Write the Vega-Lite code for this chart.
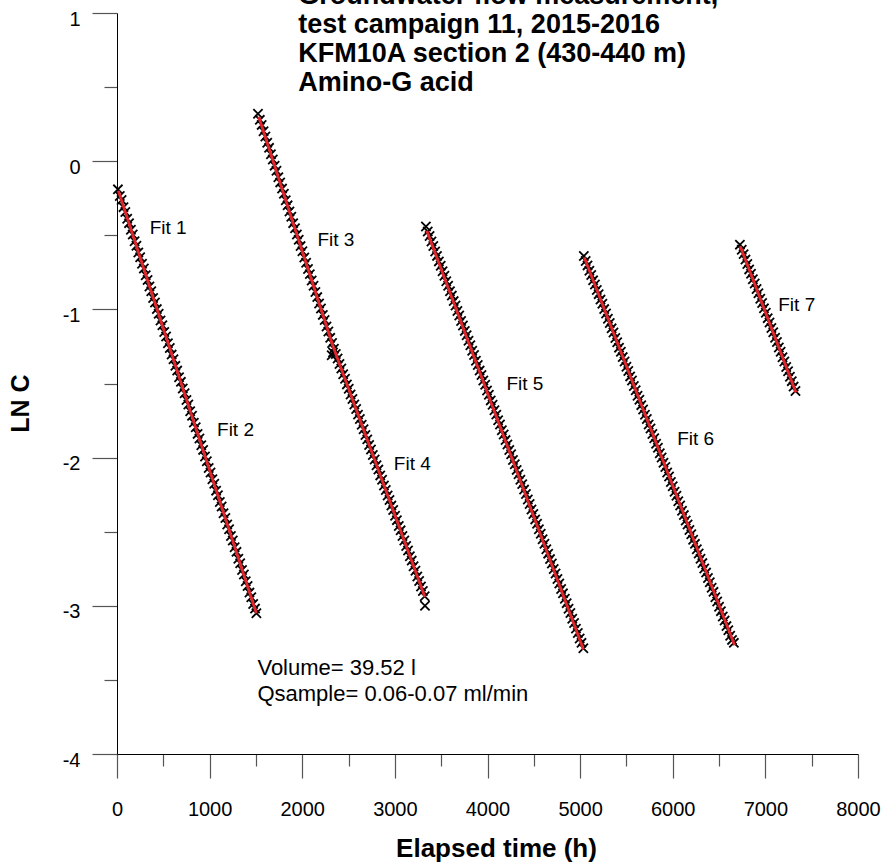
{
"$schema": "https://vega.github.io/schema/vega-lite/v6.json",
"width": 741, "height": 741,
"autosize": {"type": "none"},
"padding": {"left": 117, "top": 13, "right": 25, "bottom": 111},
"background": "white",
"config": {"view": {"stroke": null}, "font": "Liberation Sans"},
"datasets": {
"pts": [
{"s":1,"t":10,"v":-0.19},{"s":1,"t":30,"v":-0.235},{"s":1,"t":50,"v":-0.262},{"s":1,"t":70,"v":-0.31},{"s":1,"t":90,"v":-0.343},{"s":1,"t":110,"v":-0.388},{"s":1,"t":130,"v":-0.418},{"s":1,"t":150,"v":-0.462},{"s":1,"t":170,"v":-0.495},{"s":1,"t":190,"v":-0.54},{"s":1,"t":210,"v":-0.571},{"s":1,"t":230,"v":-0.616},{"s":1,"t":250,"v":-0.648},{"s":1,"t":270,"v":-0.692},{"s":1,"t":290,"v":-0.724},{"s":1,"t":310,"v":-0.77},{"s":1,"t":330,"v":-0.801},{"s":1,"t":350,"v":-0.846},{"s":1,"t":370,"v":-0.877},{"s":1,"t":390,"v":-0.923},{"s":1,"t":410,"v":-0.953},{"s":1,"t":430,"v":-0.998},{"s":1,"t":450,"v":-1.03},{"s":1,"t":470,"v":-1.075},{"s":1,"t":490,"v":-1.107},{"s":1,"t":510,"v":-1.152},{"s":1,"t":530,"v":-1.183},{"s":1,"t":550,"v":-1.228},{"s":1,"t":570,"v":-1.26},{"s":1,"t":590,"v":-1.305},{"s":1,"t":610,"v":-1.336},{"s":1,"t":630,"v":-1.381},{"s":1,"t":650,"v":-1.413},{"s":1,"t":670,"v":-1.458},{"s":1,"t":690,"v":-1.489},{"s":1,"t":710,"v":-1.534},{"s":1,"t":730,"v":-1.566},{"s":1,"t":750,"v":-1.611},{"s":1,"t":770,"v":-1.642},{"s":1,"t":790,"v":-1.687},{"s":1,"t":810,"v":-1.718},{"s":1,"t":830,"v":-1.764},{"s":1,"t":850,"v":-1.795},{"s":1,"t":870,"v":-1.84},{"s":1,"t":890,"v":-1.871},{"s":1,"t":910,"v":-1.917},{"s":1,"t":930,"v":-1.948},{"s":1,"t":950,"v":-1.993},{"s":1,"t":970,"v":-2.025},{"s":1,"t":990,"v":-2.07},{"s":1,"t":1010,"v":-2.101},{"s":1,"t":1030,"v":-2.146},{"s":1,"t":1050,"v":-2.177},{"s":1,"t":1070,"v":-2.223},{"s":1,"t":1090,"v":-2.254},{"s":1,"t":1110,"v":-2.299},{"s":1,"t":1130,"v":-2.33},{"s":1,"t":1150,"v":-2.376},{"s":1,"t":1170,"v":-2.407},{"s":1,"t":1190,"v":-2.452},{"s":1,"t":1210,"v":-2.483},{"s":1,"t":1230,"v":-2.529},{"s":1,"t":1250,"v":-2.56},{"s":1,"t":1270,"v":-2.605},{"s":1,"t":1290,"v":-2.636},{"s":1,"t":1310,"v":-2.682},{"s":1,"t":1330,"v":-2.713},{"s":1,"t":1350,"v":-2.758},{"s":1,"t":1370,"v":-2.789},{"s":1,"t":1390,"v":-2.835},{"s":1,"t":1410,"v":-2.866},{"s":1,"t":1430,"v":-2.911},{"s":1,"t":1450,"v":-2.942},{"s":1,"t":1470,"v":-2.988},{"s":1,"t":1490,"v":-3.019},{"s":1,"t":1505,"v":-3.05},
{"s":2,"t":1522,"v":0.32},{"s":2,"t":1542,"v":0.279},{"s":2,"t":1562,"v":0.245},{"s":2,"t":1582,"v":0.202},{"s":2,"t":1602,"v":0.167},{"s":2,"t":1622,"v":0.124},{"s":2,"t":1642,"v":0.09},{"s":2,"t":1662,"v":0.047},{"s":2,"t":1682,"v":0.012},{"s":2,"t":1702,"v":-0.03},{"s":2,"t":1722,"v":-0.065},{"s":2,"t":1742,"v":-0.108},{"s":2,"t":1762,"v":-0.143},{"s":2,"t":1782,"v":-0.185},{"s":2,"t":1802,"v":-0.22},{"s":2,"t":1822,"v":-0.263},{"s":2,"t":1842,"v":-0.298},{"s":2,"t":1862,"v":-0.34},{"s":2,"t":1882,"v":-0.375},{"s":2,"t":1902,"v":-0.418},{"s":2,"t":1922,"v":-0.452},{"s":2,"t":1942,"v":-0.495},{"s":2,"t":1962,"v":-0.53},{"s":2,"t":1982,"v":-0.573},{"s":2,"t":2002,"v":-0.607},{"s":2,"t":2022,"v":-0.65},{"s":2,"t":2042,"v":-0.685},{"s":2,"t":2062,"v":-0.727},{"s":2,"t":2082,"v":-0.762},{"s":2,"t":2102,"v":-0.805},{"s":2,"t":2122,"v":-0.84},{"s":2,"t":2142,"v":-0.882},{"s":2,"t":2162,"v":-0.917},{"s":2,"t":2182,"v":-0.96},{"s":2,"t":2202,"v":-0.994},{"s":2,"t":2222,"v":-1.037},{"s":2,"t":2242,"v":-1.072},{"s":2,"t":2262,"v":-1.115},{"s":2,"t":2282,"v":-1.149},{"s":2,"t":2302,"v":-1.192},{"s":2,"t":2322,"v":-1.227},{"s":2,"t":2318,"v":-1.31},{"s":2,"t":2332,"v":-1.29},
{"s":2,"t":2342,"v":-1.265},{"s":2,"t":2362,"v":-1.301},{"s":2,"t":2382,"v":-1.331},{"s":2,"t":2402,"v":-1.369},{"s":2,"t":2422,"v":-1.399},{"s":2,"t":2442,"v":-1.438},{"s":2,"t":2462,"v":-1.468},{"s":2,"t":2482,"v":-1.506},{"s":2,"t":2502,"v":-1.536},{"s":2,"t":2522,"v":-1.574},{"s":2,"t":2542,"v":-1.604},{"s":2,"t":2562,"v":-1.642},{"s":2,"t":2582,"v":-1.672},{"s":2,"t":2602,"v":-1.71},{"s":2,"t":2622,"v":-1.74},{"s":2,"t":2642,"v":-1.779},{"s":2,"t":2662,"v":-1.809},{"s":2,"t":2682,"v":-1.847},{"s":2,"t":2702,"v":-1.877},{"s":2,"t":2722,"v":-1.915},{"s":2,"t":2742,"v":-1.945},{"s":2,"t":2762,"v":-1.983},{"s":2,"t":2782,"v":-2.013},{"s":2,"t":2802,"v":-2.051},{"s":2,"t":2822,"v":-2.081},{"s":2,"t":2842,"v":-2.12},{"s":2,"t":2862,"v":-2.15},{"s":2,"t":2882,"v":-2.188},{"s":2,"t":2902,"v":-2.218},{"s":2,"t":2922,"v":-2.256},{"s":2,"t":2942,"v":-2.286},{"s":2,"t":2962,"v":-2.324},{"s":2,"t":2982,"v":-2.354},{"s":2,"t":3002,"v":-2.392},{"s":2,"t":3022,"v":-2.422},{"s":2,"t":3042,"v":-2.461},{"s":2,"t":3062,"v":-2.491},{"s":2,"t":3082,"v":-2.529},{"s":2,"t":3102,"v":-2.559},{"s":2,"t":3122,"v":-2.597},{"s":2,"t":3142,"v":-2.627},{"s":2,"t":3162,"v":-2.665},{"s":2,"t":3182,"v":-2.695},{"s":2,"t":3202,"v":-2.733},{"s":2,"t":3222,"v":-2.763},{"s":2,"t":3242,"v":-2.802},{"s":2,"t":3262,"v":-2.832},{"s":2,"t":3282,"v":-2.87},{"s":2,"t":3302,"v":-2.9},{"s":2,"t":3322,"v":-2.936},{"s":2,"t":3325,"v":-3.0},
{"s":3,"t":3335,"v":-0.44},{"s":3,"t":3355,"v":-0.475},{"s":3,"t":3375,"v":-0.505},{"s":3,"t":3395,"v":-0.542},{"s":3,"t":3415,"v":-0.572},{"s":3,"t":3435,"v":-0.609},{"s":3,"t":3455,"v":-0.639},{"s":3,"t":3475,"v":-0.676},{"s":3,"t":3495,"v":-0.706},{"s":3,"t":3515,"v":-0.743},{"s":3,"t":3535,"v":-0.773},{"s":3,"t":3555,"v":-0.81},{"s":3,"t":3575,"v":-0.84},{"s":3,"t":3595,"v":-0.877},{"s":3,"t":3615,"v":-0.907},{"s":3,"t":3635,"v":-0.944},{"s":3,"t":3655,"v":-0.974},{"s":3,"t":3675,"v":-1.011},{"s":3,"t":3695,"v":-1.041},{"s":3,"t":3715,"v":-1.078},{"s":3,"t":3735,"v":-1.108},{"s":3,"t":3755,"v":-1.145},{"s":3,"t":3775,"v":-1.175},{"s":3,"t":3795,"v":-1.212},{"s":3,"t":3815,"v":-1.242},{"s":3,"t":3835,"v":-1.279},{"s":3,"t":3855,"v":-1.308},{"s":3,"t":3875,"v":-1.346},{"s":3,"t":3895,"v":-1.375},{"s":3,"t":3915,"v":-1.413},{"s":3,"t":3935,"v":-1.442},{"s":3,"t":3955,"v":-1.48},{"s":3,"t":3975,"v":-1.509},{"s":3,"t":3995,"v":-1.547},{"s":3,"t":4015,"v":-1.576},{"s":3,"t":4035,"v":-1.614},{"s":3,"t":4055,"v":-1.643},{"s":3,"t":4075,"v":-1.681},{"s":3,"t":4095,"v":-1.71},{"s":3,"t":4115,"v":-1.748},{"s":3,"t":4135,"v":-1.777},{"s":3,"t":4155,"v":-1.815},{"s":3,"t":4175,"v":-1.844},{"s":3,"t":4195,"v":-1.882},{"s":3,"t":4215,"v":-1.911},{"s":3,"t":4235,"v":-1.949},{"s":3,"t":4255,"v":-1.978},{"s":3,"t":4275,"v":-2.016},{"s":3,"t":4295,"v":-2.045},{"s":3,"t":4315,"v":-2.083},{"s":3,"t":4335,"v":-2.112},{"s":3,"t":4355,"v":-2.149},{"s":3,"t":4375,"v":-2.179},{"s":3,"t":4395,"v":-2.216},{"s":3,"t":4415,"v":-2.246},{"s":3,"t":4435,"v":-2.283},{"s":3,"t":4455,"v":-2.313},{"s":3,"t":4475,"v":-2.35},{"s":3,"t":4495,"v":-2.38},{"s":3,"t":4515,"v":-2.417},{"s":3,"t":4535,"v":-2.447},{"s":3,"t":4555,"v":-2.484},{"s":3,"t":4575,"v":-2.514},{"s":3,"t":4595,"v":-2.551},{"s":3,"t":4615,"v":-2.581},{"s":3,"t":4635,"v":-2.618},{"s":3,"t":4655,"v":-2.648},{"s":3,"t":4675,"v":-2.685},{"s":3,"t":4695,"v":-2.715},{"s":3,"t":4715,"v":-2.752},{"s":3,"t":4735,"v":-2.782},{"s":3,"t":4755,"v":-2.819},{"s":3,"t":4775,"v":-2.849},{"s":3,"t":4795,"v":-2.886},{"s":3,"t":4815,"v":-2.916},{"s":3,"t":4835,"v":-2.953},{"s":3,"t":4855,"v":-2.982},{"s":3,"t":4875,"v":-3.02},{"s":3,"t":4895,"v":-3.049},{"s":3,"t":4915,"v":-3.087},{"s":3,"t":4935,"v":-3.116},{"s":3,"t":4955,"v":-3.154},{"s":3,"t":4975,"v":-3.183},{"s":3,"t":4995,"v":-3.221},{"s":3,"t":5015,"v":-3.25},{"s":3,"t":5035,"v":-3.286},
{"s":4,"t":5040,"v":-0.64},{"s":4,"t":5060,"v":-0.674},{"s":4,"t":5080,"v":-0.703},{"s":4,"t":5100,"v":-0.739},{"s":4,"t":5120,"v":-0.768},{"s":4,"t":5140,"v":-0.804},{"s":4,"t":5160,"v":-0.832},{"s":4,"t":5180,"v":-0.869},{"s":4,"t":5200,"v":-0.897},{"s":4,"t":5220,"v":-0.934},{"s":4,"t":5240,"v":-0.962},{"s":4,"t":5260,"v":-0.998},{"s":4,"t":5280,"v":-1.027},{"s":4,"t":5300,"v":-1.063},{"s":4,"t":5320,"v":-1.092},{"s":4,"t":5340,"v":-1.128},{"s":4,"t":5360,"v":-1.156},{"s":4,"t":5380,"v":-1.193},{"s":4,"t":5400,"v":-1.221},{"s":4,"t":5420,"v":-1.258},{"s":4,"t":5440,"v":-1.286},{"s":4,"t":5460,"v":-1.322},{"s":4,"t":5480,"v":-1.351},{"s":4,"t":5500,"v":-1.387},{"s":4,"t":5520,"v":-1.416},{"s":4,"t":5540,"v":-1.452},{"s":4,"t":5560,"v":-1.48},{"s":4,"t":5580,"v":-1.517},{"s":4,"t":5600,"v":-1.545},{"s":4,"t":5620,"v":-1.582},{"s":4,"t":5640,"v":-1.61},{"s":4,"t":5660,"v":-1.646},{"s":4,"t":5680,"v":-1.675},{"s":4,"t":5700,"v":-1.711},{"s":4,"t":5720,"v":-1.74},{"s":4,"t":5740,"v":-1.776},{"s":4,"t":5760,"v":-1.804},{"s":4,"t":5780,"v":-1.841},{"s":4,"t":5800,"v":-1.869},{"s":4,"t":5820,"v":-1.906},{"s":4,"t":5840,"v":-1.934},{"s":4,"t":5860,"v":-1.97},{"s":4,"t":5880,"v":-1.999},{"s":4,"t":5900,"v":-2.035},{"s":4,"t":5920,"v":-2.064},{"s":4,"t":5940,"v":-2.1},{"s":4,"t":5960,"v":-2.128},{"s":4,"t":5980,"v":-2.165},{"s":4,"t":6000,"v":-2.193},{"s":4,"t":6020,"v":-2.23},{"s":4,"t":6040,"v":-2.258},{"s":4,"t":6060,"v":-2.294},{"s":4,"t":6080,"v":-2.323},{"s":4,"t":6100,"v":-2.359},{"s":4,"t":6120,"v":-2.388},{"s":4,"t":6140,"v":-2.424},{"s":4,"t":6160,"v":-2.452},{"s":4,"t":6180,"v":-2.489},{"s":4,"t":6200,"v":-2.517},{"s":4,"t":6220,"v":-2.554},{"s":4,"t":6240,"v":-2.582},{"s":4,"t":6260,"v":-2.618},{"s":4,"t":6280,"v":-2.647},{"s":4,"t":6300,"v":-2.683},{"s":4,"t":6320,"v":-2.712},{"s":4,"t":6340,"v":-2.748},{"s":4,"t":6360,"v":-2.776},{"s":4,"t":6380,"v":-2.813},{"s":4,"t":6400,"v":-2.841},{"s":4,"t":6420,"v":-2.878},{"s":4,"t":6440,"v":-2.906},{"s":4,"t":6460,"v":-2.942},{"s":4,"t":6480,"v":-2.971},{"s":4,"t":6500,"v":-3.007},{"s":4,"t":6520,"v":-3.036},{"s":4,"t":6540,"v":-3.072},{"s":4,"t":6560,"v":-3.1},{"s":4,"t":6580,"v":-3.137},{"s":4,"t":6600,"v":-3.165},{"s":4,"t":6620,"v":-3.202},{"s":4,"t":6640,"v":-3.23},{"s":4,"t":6660,"v":-3.25},
{"s":5,"t":6725,"v":-0.563},{"s":5,"t":6745,"v":-0.598},{"s":5,"t":6765,"v":-0.627},{"s":5,"t":6785,"v":-0.664},{"s":5,"t":6805,"v":-0.693},{"s":5,"t":6825,"v":-0.73},{"s":5,"t":6845,"v":-0.759},{"s":5,"t":6865,"v":-0.796},{"s":5,"t":6885,"v":-0.825},{"s":5,"t":6905,"v":-0.862},{"s":5,"t":6925,"v":-0.891},{"s":5,"t":6945,"v":-0.928},{"s":5,"t":6965,"v":-0.957},{"s":5,"t":6985,"v":-0.993},{"s":5,"t":7005,"v":-1.022},{"s":5,"t":7025,"v":-1.059},{"s":5,"t":7045,"v":-1.088},{"s":5,"t":7065,"v":-1.125},{"s":5,"t":7085,"v":-1.154},{"s":5,"t":7105,"v":-1.191},{"s":5,"t":7125,"v":-1.22},{"s":5,"t":7145,"v":-1.257},{"s":5,"t":7165,"v":-1.286},{"s":5,"t":7185,"v":-1.323},{"s":5,"t":7205,"v":-1.352},{"s":5,"t":7225,"v":-1.389},{"s":5,"t":7245,"v":-1.418},{"s":5,"t":7265,"v":-1.455},{"s":5,"t":7285,"v":-1.484},{"s":5,"t":7305,"v":-1.521},{"s":5,"t":7325,"v":-1.55}
],
"fits": [
{"fit":"Fit 1","t":15,"v":-0.2},{"fit":"Fit 1","t":800,"v":-1.703},
{"fit":"Fit 2","t":800,"v":-1.703},{"fit":"Fit 2","t":1505,"v":-3.05},
{"fit":"Fit 3","t":1530,"v":0.3},{"fit":"Fit 3","t":2333,"v":-1.25},
{"fit":"Fit 4","t":2333,"v":-1.25},{"fit":"Fit 4","t":3324,"v":-2.94},
{"fit":"Fit 5","t":3345,"v":-0.47},{"fit":"Fit 5","t":5036,"v":-3.295},
{"fit":"Fit 6","t":5045,"v":-0.65},{"fit":"Fit 6","t":6668,"v":-3.266},
{"fit":"Fit 7","t":6730,"v":-0.575},{"fit":"Fit 7","t":7330,"v":-1.56}
],
"labels": [
{"label":"Fit 1","t":353,"v":-0.454},
{"label":"Fit 2","t":1080,"v":-1.816},
{"label":"Fit 3","t":2164,"v":-0.535},
{"label":"Fit 4","t":2989,"v":-2.04},
{"label":"Fit 5","t":4205,"v":-1.502},
{"label":"Fit 6","t":6048,"v":-1.877},
{"label":"Fit 7","t":7139,"v":-0.973}
],
"notes": [
{"label":"Volume= 39.52 l\nQsample= 0.06-0.07 ml/min","t":1516,"v":-3.464}
],
"heading": [
{"label":"Groundwater flow measurement,\ntest campaign 11, 2015-2016\nKFM10A section 2 (430-440 m)\nAmino-G acid","t":1957,"v":1.059}
]
},
"layer": [
{
"data": {"name": "pts"},
"mark": {"type": "point", "shape": "M-1,-1L1,1M-1,1L1,-1", "filled": false, "stroke": "#000000", "strokeWidth": 1.8, "size": 85, "opacity": 1},
"encoding": {
"x": {"field": "t", "type": "quantitative",
"scale": {"domain": [0, 8000], "nice": false, "zero": false},
"axis": {"values": [0,500,1000,1500,2000,2500,3000,3500,4000,4500,5000,5500,6000,6500,7000,7500,8000],
"title": "Elapsed time (h)", "grid": false,
"domainColor": "#000000", "domainWidth": 1,
"tickColor": "#555555", "tickWidth": 1.2,
"tickSize": {"condition": {"test": "datum.value % 1000 === 0", "value": 24}, "value": 12},
"labelExpr": "datum.value % 1000 === 0 ? '' + datum.value : ''",
"labelFontSize": 20, "labelColor": "#000000", "labelPadding": 21,
"labelFlush": false, "labelOverlap": false,
"titleFontSize": 26, "titleFontWeight": "bold", "titleColor": "#000000",
"titleX": 379, "titleY": 102.5, "titleAlign": "center", "titleBaseline": "alphabetic"}},
"y": {"field": "v", "type": "quantitative",
"scale": {"domain": [-4, 1], "nice": false, "zero": false},
"axis": {"values": [-4,-3.5,-3,-2.5,-2,-1.5,-1,-0.5,0,0.5,1],
"title": "LN C", "grid": false,
"domainColor": "#000000", "domainWidth": 1,
"tickColor": "#555555", "tickWidth": 1.2,
"tickSize": {"condition": {"test": "datum.value % 1 === 0", "value": 25}, "value": 13},
"labelExpr": "datum.value % 1 === 0 ? '' + datum.value : ''",
"labelFontSize": 20, "labelColor": "#000000", "labelPadding": 12, "labelOffset": 6,
"labelOverlap": false,
"titleFontSize": 25, "titleFontWeight": "bold", "titleColor": "#000000",
"titleX": -89, "titleY": 390, "titleAlign": "center", "titleBaseline": "alphabetic", "titleAngle": 270}}
}
},
{
"data": {"name": "fits"},
"mark": {"type": "line", "color": "#e3262b", "strokeWidth": 2.8},
"encoding": {
"x": {"field": "t", "type": "quantitative"},
"y": {"field": "v", "type": "quantitative"},
"detail": {"field": "fit", "type": "nominal"}
}
},
{
"data": {"name": "labels"},
"mark": {"type": "text", "align": "left", "baseline": "middle", "fontSize": 19, "color": "#000000"},
"encoding": {
"x": {"field": "t", "type": "quantitative"},
"y": {"field": "v", "type": "quantitative"},
"text": {"field": "label", "type": "nominal"}
}
},
{
"data": {"name": "notes"},
"mark": {"type": "text", "align": "left", "baseline": "alphabetic", "fontSize": 22, "lineBreak": "\n", "lineHeight": 26.7, "color": "#000000"},
"encoding": {
"x": {"field": "t", "type": "quantitative"},
"y": {"field": "v", "type": "quantitative"},
"text": {"field": "label", "type": "nominal"}
}
},
{
"data": {"name": "heading"},
"mark": {"type": "text", "align": "left", "baseline": "alphabetic", "fontSize": 27, "fontWeight": "bold", "lineBreak": "\n", "lineHeight": 29, "color": "#000000"},
"encoding": {
"x": {"field": "t", "type": "quantitative"},
"y": {"field": "v", "type": "quantitative"},
"text": {"field": "label", "type": "nominal"}
}
}
]
}
